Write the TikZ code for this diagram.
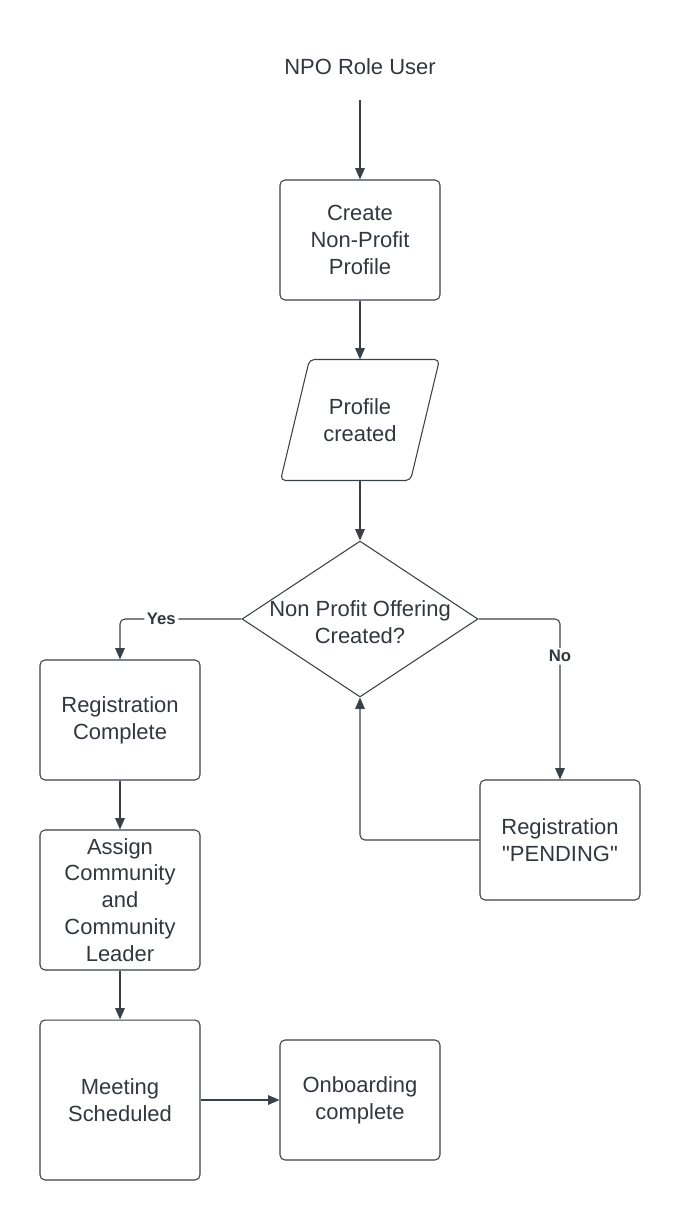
\documentclass[tikz,border=0pt]{standalone}
\usepackage{fontspec}
\setmainfont{Liberation Sans}[Ligatures=TeXOff]
\usetikzlibrary{shapes.geometric,arrows.meta}
\definecolor{linegray}{RGB}{58,64,72}
\definecolor{textgray}{RGB}{50,55,62}
\begin{document}
\begin{tikzpicture}[x=0.02cm, y=-0.02cm, line width=0.6pt,
  every node/.style = {text=textgray, font=\fontsize{12.5}{15.3}\selectfont, align=center},
  box/.style = {rectangle, rounded corners=2.8pt, draw=linegray, minimum width=3.2cm, minimum height=2.4cm},
  flow/.style = {draw=linegray, rounded corners=2.8pt, -{Triangle[length=6.5pt, width=5.5pt]}},
  answer/.style = {font=\bfseries\fontsize{9.5}{11}\selectfont, fill=white, inner sep=1.5pt}]
  \useasboundingbox (0,0) rectangle (680,1220);
  % main column
  \node (user) at (360,67) {NPO Role User};
  \coordinate (start) at (360,100);
  \node [box] (create) at (360,240) {Create\\Non-Profit\\Profile};
  \node [minimum width=3.16cm, minimum height=2.4cm] (profile) at (360,420) {Profile\\created};
  \draw [linegray, rounded corners=2.8pt] (profile.south west) -- ([xshift=-0.58cm]profile.south east)
    -- (profile.north east) -- ([xshift=0.58cm]profile.north west) -- cycle;
  \node [diamond, draw=linegray, minimum width=4.72cm, minimum height=3.12cm, inner sep=0pt] (offer) at (360,619) {};
  \node (offertext) at ([yshift=-2pt]offer.center) {Non Profit Offering\\Created?};
  % branches
  \node [box] (regdone) at (120,720) {Registration\\Complete};
  \node [box, minimum height=2.8cm] (assign) at (120,900) {Assign\\Community\\and\\Community\\Leader};
  \node [box, minimum height=3.2cm] (meeting) at (120,1100) {Meeting\\Scheduled};
  \node [box] (onboard) at (360,1100) {Onboarding\\complete};
  \node [box] (pending) at (560,840) {Registration\\"PENDING"};
  % connectors
  \draw [flow] (start) -- (create);
  \draw [flow] (create) -- (profile);
  \draw [flow] (profile) -- (offer);
  \draw [flow] (offer.west) -| (regdone.north) node [answer, pos=0.33] {Yes};
  \draw [flow] (offer.east) -| (pending.north) node [answer, pos=0.616] {No};
  \draw [flow] (pending.west) -| (offer.south);
  \draw [flow] (regdone) -- (assign);
  \draw [flow] (assign) -- (meeting);
  \draw [flow] (meeting) -- (onboard);
\end{tikzpicture}
\end{document}
